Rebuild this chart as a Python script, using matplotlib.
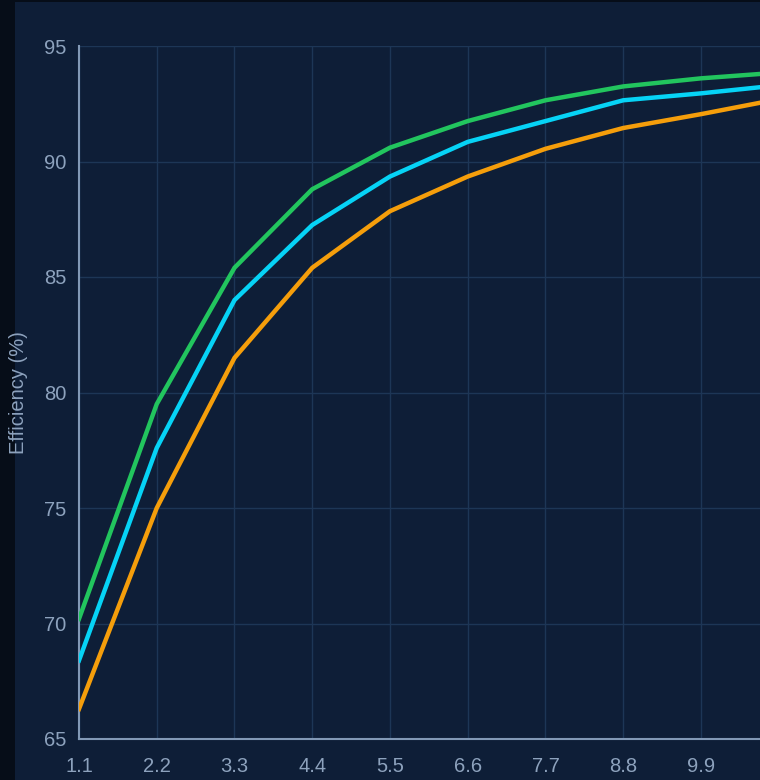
import matplotlib
matplotlib.use("Agg")
import matplotlib.pyplot as plt
from matplotlib.patches import Rectangle

# load steps along the x axis; the last point lies past the visible edge
x_vals = [1.1, 2.2, 3.3, 4.4, 5.5, 6.6, 7.7, 8.8, 9.9, 11.0]
green_eff = [70.2, 79.5, 85.4, 88.8, 90.6, 91.75, 92.65, 93.25, 93.6, 93.85]
cyan_eff = [68.4, 77.6, 84.0, 87.25, 89.35, 90.85, 91.75, 92.65, 92.95, 93.3]
orange_eff = [66.3, 75.0, 81.5, 85.4, 87.85, 89.35, 90.55, 91.45, 92.05, 92.7]
x_ticks = [1.1, 2.2, 3.3, 4.4, 5.5, 6.6, 7.7, 8.8, 9.9]
y_ticks = [65, 70, 75, 80, 85, 90, 95]

BG = "#0e1e37"
TXT = "#8da2bd"
GRID = "#1d3656"
SPINE = "#8299b6"

W, H = 760, 780
fig = plt.figure(figsize=(W / 100, H / 100), dpi=100, facecolor="#060d18")
fig.patches.append(Rectangle((15 / W, 0), 1, 1 - 2 / H, transform=fig.transFigure,
                             facecolor=BG, edgecolor="none", zorder=-5))

ax = fig.add_axes([79 / W, (H - 739) / H, (W - 79) / W, (739 - 46) / H])
ax.set_facecolor(BG)

ax.plot(x_vals, green_eff, color="#22c55e", lw=3.2, solid_joinstyle="miter", zorder=3)
ax.plot(x_vals, cyan_eff, color="#06d3f6", lw=3.2, solid_joinstyle="miter", zorder=3)
ax.plot(x_vals, orange_eff, color="#f59e0b", lw=3.2, solid_joinstyle="miter", zorder=3)

ax.set_xlim(1.1, 1.1 + (W - 79) / 77.75 * 1.1)
ax.set_ylim(65, 95)
ax.set_xticks(x_ticks)
ax.set_xticklabels([f"{v:.1f}" for v in x_ticks])
ax.set_yticks(y_ticks)

ax.grid(True, color=GRID, lw=1)
ax.set_axisbelow(True)
for s in ["top", "right"]:
    ax.spines[s].set_visible(False)
for s in ["left", "bottom"]:
    ax.spines[s].set_color(SPINE)
    ax.spines[s].set_linewidth(1.5)

ax.tick_params(axis="both", length=0, colors=TXT, labelsize=14.5)
ax.tick_params(axis="y", pad=9)
ax.tick_params(axis="x", pad=13)
for lab in ax.get_xticklabels() + ax.get_yticklabels():
    lab.set_fontfamily("Liberation Sans")

ax.set_ylabel("Efficiency (%)", color=TXT, fontsize=14.5, family="Liberation Sans",
              va="center")
ax.yaxis.set_label_coords(-60 / (W - 79), 0.5)

fig.savefig("out.png", dpi=100, facecolor=fig.get_facecolor())
